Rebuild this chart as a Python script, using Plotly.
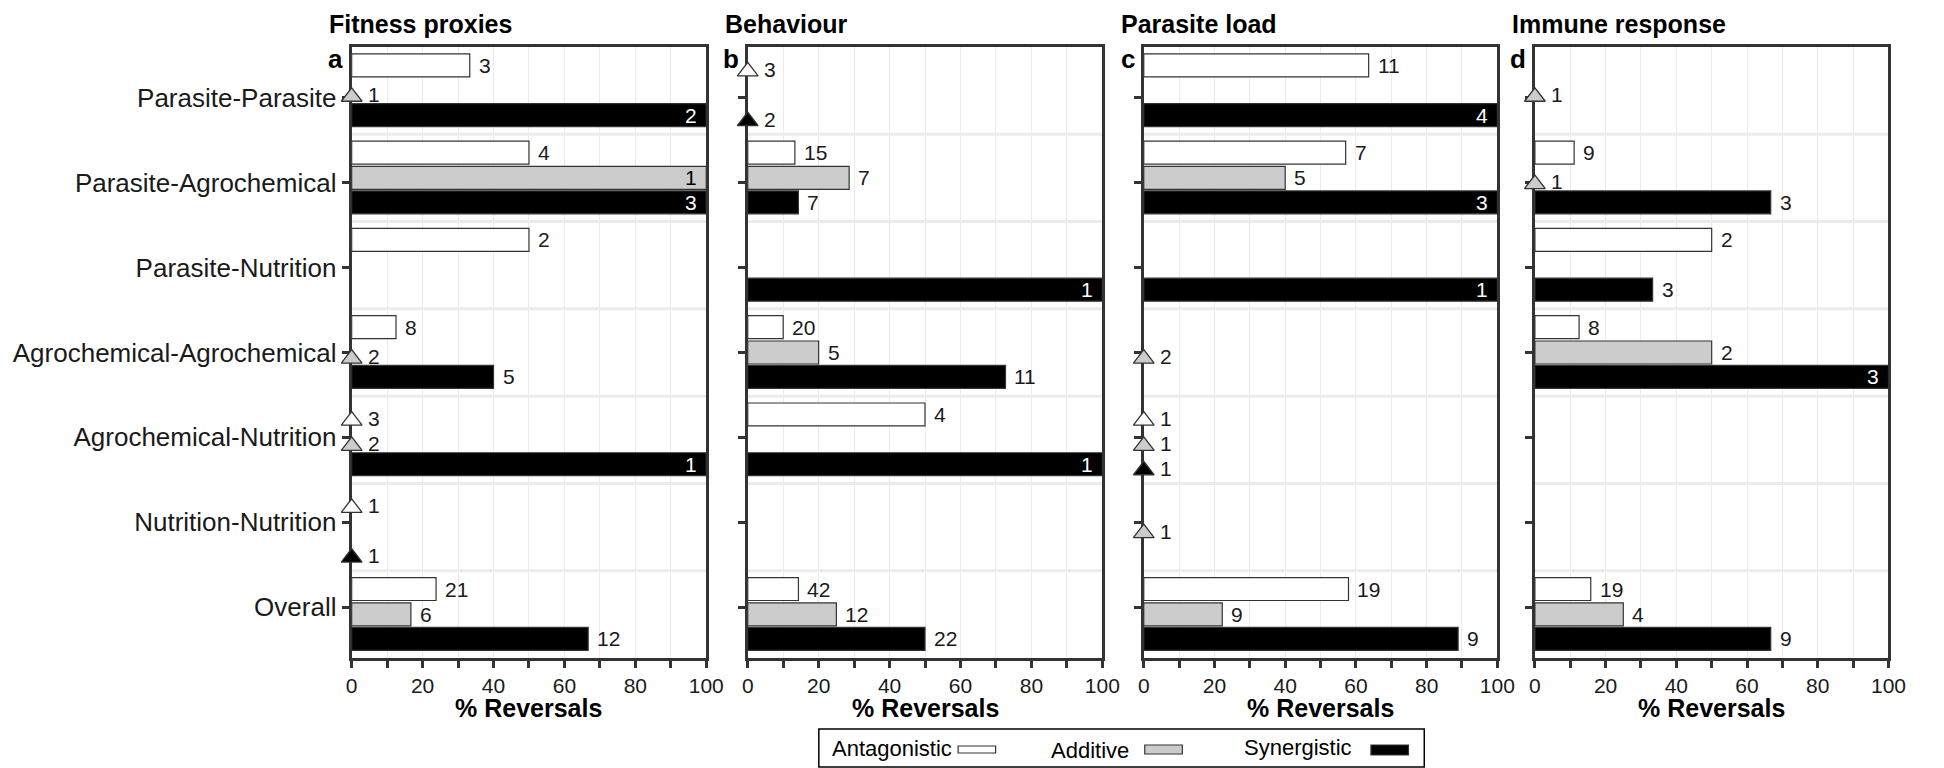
import plotly.graph_objects as go

W, H = 1944, 768

categories = ["Parasite-Parasite", "Parasite-Agrochemical", "Parasite-Nutrition",
              "Agrochemical-Agrochemical", "Agrochemical-Nutrition",
              "Nutrition-Nutrition", "Overall"]
series_names = ["Antagonistic", "Additive", "Synergistic"]
panel_titles = ["Fitness proxies", "Behaviour", "Parasite load", "Immune response"]
panel_tags = ["a", "b", "c", "d"]
x_ticks = [0, 20, 40, 60, 80, 100]

# % reversals (None = no interactions of that type)
fitness_antagonistic = [33.3, 50.0, 50.0, 12.5, 0, 0, 23.8]
fitness_additive = [0, 100, None, 0, 0, None, 16.7]
fitness_synergistic = [100, 100, None, 40.0, 100, 0, 66.7]
fitness_antagonistic_n = [3, 4, 2, 8, 3, 1, 21]
fitness_additive_n = [1, 1, None, 2, 2, None, 6]
fitness_synergistic_n = [2, 3, None, 5, 1, 1, 12]

behaviour_antagonistic = [0, 13.3, None, 10.0, 50.0, None, 14.3]
behaviour_additive = [None, 28.6, None, 20.0, None, None, 25.0]
behaviour_synergistic = [0, 14.3, 100, 72.7, 100, None, 50.0]
behaviour_antagonistic_n = [3, 15, None, 20, 4, None, 42]
behaviour_additive_n = [None, 7, None, 5, None, None, 12]
behaviour_synergistic_n = [2, 7, 1, 11, 1, None, 22]

parasite_antagonistic = [63.6, 57.1, None, None, 0, None, 57.9]
parasite_additive = [None, 40.0, None, 0, 0, 0, 22.2]
parasite_synergistic = [100, 100, 100, None, 0, None, 88.9]
parasite_antagonistic_n = [11, 7, None, None, 1, None, 19]
parasite_additive_n = [None, 5, None, 2, 1, 1, 9]
parasite_synergistic_n = [4, 3, 1, None, 1, None, 9]

immune_antagonistic = [None, 11.1, 50.0, 12.5, None, None, 15.8]
immune_additive = [0, 0, None, 50.0, None, None, 25.0]
immune_synergistic = [None, 66.7, 33.3, 100, None, None, 66.7]
immune_antagonistic_n = [None, 9, 2, 8, None, None, 19]
immune_additive_n = [1, 1, None, 2, None, None, 4]
immune_synergistic_n = [None, 3, 3, 3, None, None, 9]

panels = [
    ([fitness_antagonistic, fitness_additive, fitness_synergistic],
     [fitness_antagonistic_n, fitness_additive_n, fitness_synergistic_n]),
    ([behaviour_antagonistic, behaviour_additive, behaviour_synergistic],
     [behaviour_antagonistic_n, behaviour_additive_n, behaviour_synergistic_n]),
    ([parasite_antagonistic, parasite_additive, parasite_synergistic],
     [parasite_antagonistic_n, parasite_additive_n, parasite_synergistic_n]),
    ([immune_antagonistic, immune_additive, immune_synergistic],
     [immune_antagonistic_n, immune_additive_n, immune_synergistic_n]),
]

fills = ["#FFFFFF", "#CCCCCC", "#000000"]
inside_text = ["#000000", "#000000", "#FFFFFF"]
offsets = [-0.29, 0.0, 0.28]
BAR_H = 0.263
FONT = "Liberation Sans, Arial, sans-serif"
AX = "#333333"

# pixel layout
x_dom_px = [(350, 709), (751, 1110), (1152, 1510), (1548, 1906)]
y_top_px, y_bot_px = 47, 658


def px(x):
    return x / W


def py(y):
    return 1 - y / H


fig = go.Figure()
annotations = []
shapes = []
ncat = len(categories)
tickvals_y = [(0.6 + k) * ncat / (ncat + 0.2) for k in range(ncat)]

for p, (vals, ns) in enumerate(panels):
    xa = "x" if p == 0 else f"x{p+1}"
    ya = "y" if p == 0 else f"y{p+1}"
    for s in range(3):
        v = vals[s]
        n = ns[s]
        bx, by, tx, ty = [], [], [], []
        for k in range(ncat):
            if v[k] is None:
                continue
            yc = k + 0.5 + offsets[s]
            if v[k] == 0:
                tx.append(0)
                ty.append(yc + 0.07)
                annotations.append(dict(
                    x=0, y=yc + 0.045, xref=xa, yref=ya, text=str(n[k]),
                    showarrow=False, xanchor="left", yanchor="middle", xshift=14,
                    font=dict(family=FONT, size=21, color="#1a1a1a")))
            else:
                bx.append(v[k])
                by.append(yc)
                if v[k] >= 100:
                    annotations.append(dict(
                        x=v[k], y=yc, xref=xa, yref=ya, text=str(n[k]),
                        showarrow=False, xanchor="right", yanchor="middle", xshift=-7,
                        font=dict(family=FONT, size=21, color=inside_text[s])))
                else:
                    annotations.append(dict(
                        x=v[k], y=yc, xref=xa, yref=ya, text=str(n[k]),
                        showarrow=False, xanchor="left", yanchor="middle", xshift=7,
                        font=dict(family=FONT, size=21, color="#1a1a1a")))
        fig.add_trace(go.Bar(
            x=bx, y=by, orientation="h", width=BAR_H, base=0,
            marker=dict(color=fills[s], line=dict(color="#333333", width=1.2)),
            xaxis=xa, yaxis=ya, name=series_names[s], showlegend=False,
            hoverinfo="skip"))
        if tx:
            fig.add_trace(go.Scatter(
                x=tx, y=ty, mode="markers", cliponaxis=False,
                marker=dict(symbol="triangle-up", size=18, color=fills[s],
                            line=dict(color="#333333", width=1.3)),
                xaxis=xa, yaxis=ya, showlegend=False, hoverinfo="skip"))

    # band separators
    for b in range(1, ncat):
        shapes.append(dict(type="line", xref=f"{xa} domain", yref=ya,
                           x0=0, x1=1, y0=b, y1=b, layer="below",
                           line=dict(color="#EBEBEB", width=3)))

    x0, x1 = x_dom_px[p]
    common_x = dict(
        domain=[px(x0), px(x1)], range=[0, 100], anchor=ya,
        tickmode="array", tickvals=x_ticks, ticktext=[str(t) for t in x_ticks],
        ticks="outside", ticklen=7, tickwidth=3, tickcolor=AX,
        showline=True, linewidth=3, linecolor=AX, mirror=True,
        showgrid=True, gridcolor="#EBEBEB", gridwidth=1, zeroline=False,
        minor=dict(dtick=10, tick0=0, ticks="outside", ticklen=7, tickwidth=3,
                   tickcolor=AX, showgrid=True, gridcolor="#EBEBEB", gridwidth=1),
        tickfont=dict(family=FONT, size=21, color="#1a1a1a"),
        layer="below traces", fixedrange=True)
    common_y = dict(
        domain=[py(y_bot_px), py(y_top_px)], range=[ncat, 0], anchor=xa,
        tickmode="array", tickvals=tickvals_y,
        ticktext=categories if p == 0 else [""] * ncat,
        showticklabels=(p == 0),
        ticks="outside", ticklen=7, tickwidth=3, tickcolor=AX,
        showline=True, linewidth=3, linecolor=AX, mirror=True,
        showgrid=False, zeroline=False,
        tickfont=dict(family=FONT, size=26, color="#1a1a1a"),
        layer="below traces", fixedrange=True)
    xk = "xaxis" if p == 0 else f"xaxis{p+1}"
    yk = "yaxis" if p == 0 else f"yaxis{p+1}"
    fig.update_layout({xk: common_x, yk: common_y})

    # titles, tags, axis titles
    annotations.append(dict(x=px(x0 - 25), y=py(24), xref="paper", yref="paper",
                            text=f"<b>{panel_titles[p]}</b>", showarrow=False,
                            xanchor="left", yanchor="middle",
                            font=dict(family=FONT, size=25, color="#000000")))
    annotations.append(dict(x=px(x0 - 7), y=py(59), xref="paper", yref="paper",
                            text=f"<b>{panel_tags[p]}</b>", showarrow=False,
                            xanchor="right", yanchor="middle",
                            font=dict(family=FONT, size=26, color="#000000")))
    annotations.append(dict(x=px((x0 + x1) / 2), y=py(708), xref="paper", yref="paper",
                            text="<b>% Reversals</b>", showarrow=False,
                            xanchor="center", yanchor="middle",
                            font=dict(family=FONT, size=25, color="#000000")))

# legend (manual)
shapes.append(dict(type="rect", xref="paper", yref="paper",
                   x0=px(823), x1=px(1436), y0=py(767), y1=py(729),
                   line=dict(color="#000000", width=1.5), fillcolor="rgba(0,0,0,0)"))
leg_text_x = [834, 1056, 1251]
leg_text_y = [748, 750, 747]
leg_sw_x = [(964, 1002), (1153, 1191), (1382, 1420)]
leg_sw_y = [(746, 753), (745, 754), (745, 755)]
for s in range(3):
    annotations.append(dict(x=px(leg_text_x[s]), y=py(leg_text_y[s]), xref="paper", yref="paper",
                            text=series_names[s], showarrow=False,
                            xanchor="left", yanchor="middle",
                            font=dict(family=FONT, size=22, color="#000000")))
    shapes.append(dict(type="rect", xref="paper", yref="paper",
                       x0=px(leg_sw_x[s][0]), x1=px(leg_sw_x[s][1]),
                       y0=py(leg_sw_y[s][1]), y1=py(leg_sw_y[s][0]),
                       line=dict(color="#333333", width=1.2), fillcolor=fills[s]))

fig.update_layout(
    width=W, height=H, margin=dict(l=0, r=0, t=0, b=0),
    paper_bgcolor="white", plot_bgcolor="white",
    barmode="overlay", showlegend=False,
    annotations=annotations, shapes=shapes,
    font=dict(family=FONT),
)

fig.write_html("out.html")
